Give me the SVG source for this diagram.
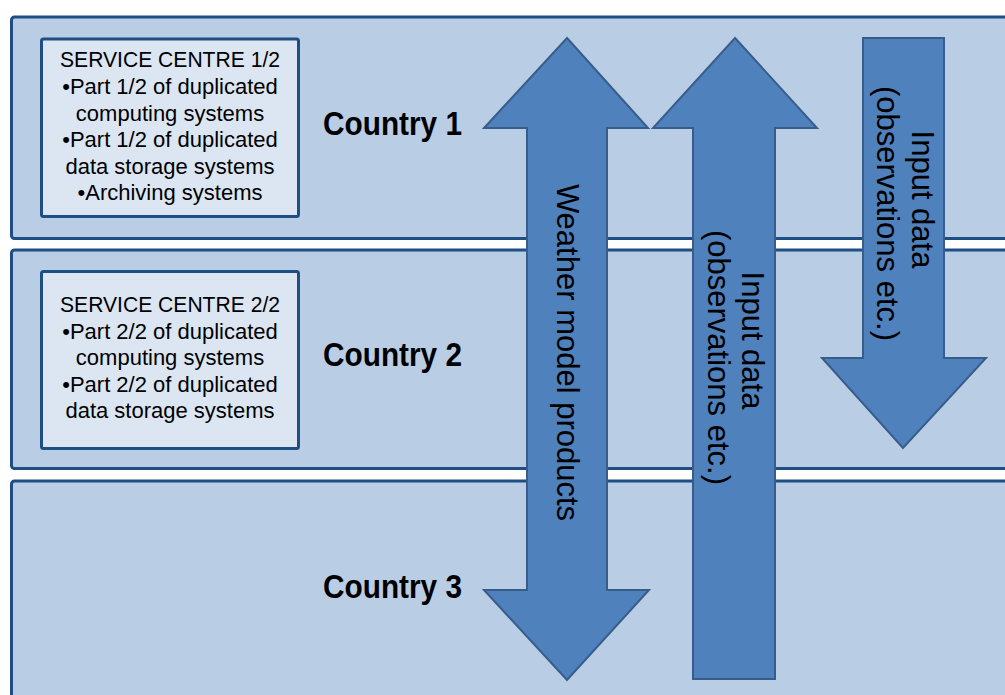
<svg xmlns="http://www.w3.org/2000/svg" width="1005" height="695" viewBox="0 0 1005 695">
<style>
.band{fill:#b9cde5;stroke:#1f4e84;stroke-width:3}
.box{fill:#dce6f2;stroke:#1f4e84;stroke-width:3}
.arrow{fill:#4f81bd;stroke:#385d8a;stroke-width:2;stroke-linejoin:miter}
.bt{font-family:"Liberation Sans",Arial,sans-serif;font-size:22px;fill:#000;text-anchor:middle}
.ct{font-family:"Liberation Sans",Arial,sans-serif;font-size:33px;font-weight:bold;fill:#000;text-anchor:middle}
.at{font-family:"Liberation Sans",Arial,sans-serif;font-size:31px;fill:#000;text-anchor:middle}
</style>
<rect width="1005" height="695" fill="#ffffff"/>
<g id="country1">
<rect class="band" x="11.5" y="17" width="1010" height="221.5" rx="3"/>
<text class="ct" x="392.5" y="135" textLength="139" lengthAdjust="spacingAndGlyphs">Country 1</text>
</g>
<g id="country2">
<rect class="band" x="11.5" y="250" width="1010" height="218.5" rx="3"/>
<text class="ct" x="392.5" y="366" textLength="139" lengthAdjust="spacingAndGlyphs">Country 2</text>
</g>
<g id="country3">
<rect class="band" x="11.5" y="481" width="1010" height="250" rx="3"/>
<text class="ct" x="392.5" y="598" textLength="139" lengthAdjust="spacingAndGlyphs">Country 3</text>
</g>
<g id="service-centre-1">
<rect class="box" x="41.5" y="39" width="257" height="177.5" rx="2"/>
<text class="bt" x="170" y="67" textLength="220" lengthAdjust="spacingAndGlyphs">SERVICE CENTRE 1/2</text>
<text class="bt" x="170" y="93.5">•Part 1/2 of duplicated</text>
<text class="bt" x="170" y="120.5">computing systems</text>
<text class="bt" x="170" y="147">•Part 1/2 of duplicated</text>
<text class="bt" x="170" y="173.5">data storage systems</text>
<text class="bt" x="170" y="200">•Archiving systems</text>
</g>
<g id="service-centre-2">
<rect class="box" x="41.5" y="271.5" width="257" height="177" rx="2"/>
<text class="bt" x="170" y="312" textLength="220" lengthAdjust="spacingAndGlyphs">SERVICE CENTRE 2/2</text>
<text class="bt" x="170" y="338.5">•Part 2/2 of duplicated</text>
<text class="bt" x="170" y="365">computing systems</text>
<text class="bt" x="170" y="391.5">•Part 2/2 of duplicated</text>
<text class="bt" x="170" y="418">data storage systems</text>
</g>
<g id="connectors">
<g id="weather-products">
<polygon class="arrow" points="567,38 648,128 607,128 607,590 649,590 567,680 484,590 527,590 527,128 484,128"/>
<text class="at" transform="translate(567,352.5) rotate(90)" y="10">Weather model products</text>
</g>
<g id="input-data-up">
<polygon class="arrow" points="735,38 817,128 775,128 775,679 693,679 693,128 653,128"/>
<text class="at" transform="translate(734,340.5) rotate(90)" y="-8">Input data</text>
<text class="at" transform="translate(734,357.5) rotate(90)" y="26">(observations etc.)</text>
</g>
<g id="input-data-down">
<polygon class="arrow" points="863,38 944,38 944,358 986,358 903,448 822,358 863,358"/>
<text class="at" transform="translate(903,199.5) rotate(90)" y="-9">Input data</text>
<text class="at" transform="translate(903,213.5) rotate(90)" y="26">(observations etc.)</text>
</g>
</g>
</svg>
